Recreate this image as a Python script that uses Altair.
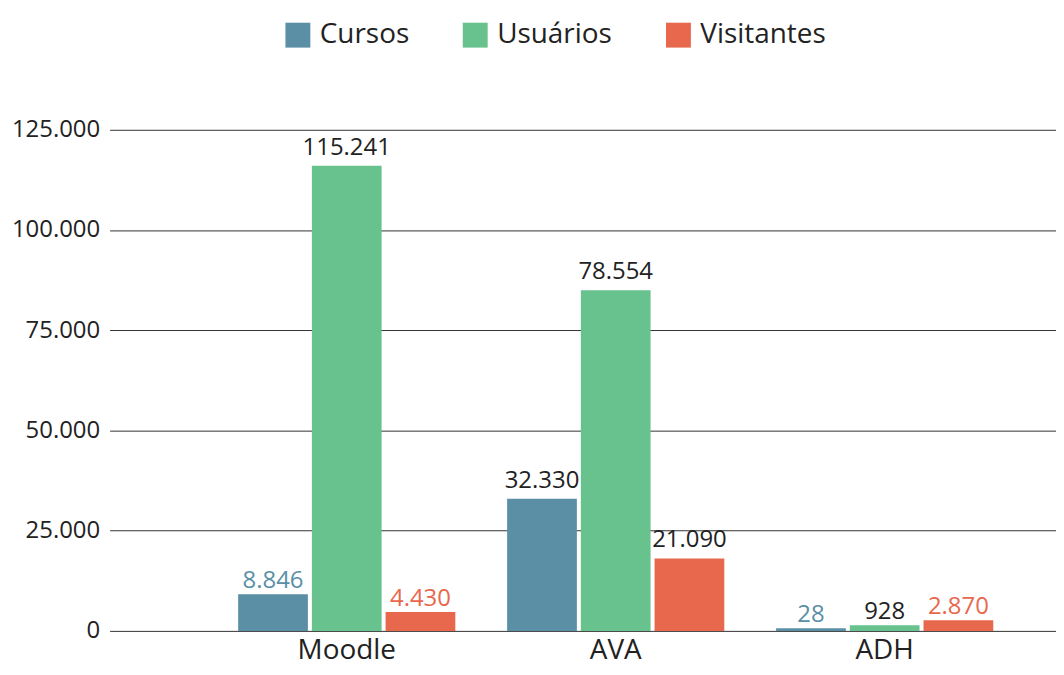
import altair as alt
import pandas as pd

categories = ["Moodle", "AVA", "ADH"]
series = ["Cursos", "Usuários", "Visitantes"]
series_colors = ["#5A8FA6", "#68C28D", "#E8684E"]

# bar heights as drawn
cursos = [9120, 32980, 670]
usuarios = [116050, 85000, 1400]
visitantes = [4720, 18070, 2660]

# printed labels
cursos_labels = ["8.846", "32.330", "28"]
usuarios_labels = ["115.241", "78.554", "928"]
visitantes_labels = ["4.430", "21.090", "2.870"]

cursos_label_colors = ["#5A8FA6", "#222222", "#5A8FA6"]
usuarios_label_colors = ["#222222", "#222222", "#222222"]
visitantes_label_colors = ["#E8684E", "#222222", "#E8684E"]

rows = []
for s, vals, labs, cols in [
    ("Cursos", cursos, cursos_labels, cursos_label_colors),
    ("Usuários", usuarios, usuarios_labels, usuarios_label_colors),
    ("Visitantes", visitantes, visitantes_labels, visitantes_label_colors),
]:
    for c, v, l, lc in zip(categories, vals, labs, cols):
        rows.append({"cat": c, "serie": s, "value": v, "label": l, "lcolor": lc})
df = pd.DataFrame(rows)

FONT = "Open Sans"

x_enc = alt.X(
    "cat:N",
    sort=categories,
    scale=alt.Scale(paddingInner=0.1926, paddingOuter=0.3556, align=0.672),
    axis=alt.Axis(
        title=None, labelAngle=0, ticks=False, domain=False, grid=False,
        labelFontSize=28, labelPadding=6, labelColor="#222222", labelFont=FONT,
    ),
)
xo_enc = alt.XOffset(
    "serie:N", sort=series,
    scale=alt.Scale(paddingInner=0.054, paddingOuter=0),
)
y_enc = alt.Y(
    "value:Q",
    scale=alt.Scale(domain=[0, 125000], nice=False),
    axis=alt.Axis(
        title=None, values=[0, 25000, 50000, 75000, 100000, 125000],
        labelExpr="replace(format(datum.value, ','), ',', '.')",
        ticks=False, domain=False, grid=True, gridColor="#333333", gridWidth=1,
        gridOpacity=1, labelFontSize=24, labelPadding=10, labelColor="#222222",
        labelFont=FONT,
    ),
)

bars = alt.Chart(df).mark_bar().encode(
    x=x_enc,
    xOffset=xo_enc,
    y=y_enc,
    color=alt.Color(
        "serie:N", sort=series,
        scale=alt.Scale(domain=series, range=series_colors),
        legend=alt.Legend(
            title=None, orient="none", direction="horizontal",
            legendX=175, legendY=-109,
            symbolType="square", symbolSize=625, symbolStrokeWidth=0,
            symbolOpacity=1,
            labelFontSize=28, labelFont=FONT, labelColor="#222222",
            labelOffset=8, columnPadding=52,
        ),
    ),
)


def label_layer(filter_expr, dy):
    return alt.Chart(df).transform_filter(filter_expr).mark_text(
        baseline="bottom", dy=dy, fontSize=24, font=FONT,
    ).encode(
        x=alt.X("cat:N", sort=categories),
        xOffset=alt.XOffset("serie:N", sort=series),
        y=alt.Y("value:Q"),
        text="label:N",
        color=alt.Color("lcolor:N", scale=None),
    )


labels_big = label_layer("datum.value >= 10000", -6)
labels_small = label_layer("datum.value < 10000", -1)

chart = alt.layer(bars, labels_big, labels_small).properties(
    width=950, height=503,
    padding={"left": 102, "top": 121, "right": 0, "bottom": 35},
    autosize=alt.AutoSizeParams(type="none"),
    background="white",
).configure_view(strokeWidth=0)

chart.save("out.html", embed_options={"renderer": "svg", "actions": False})
